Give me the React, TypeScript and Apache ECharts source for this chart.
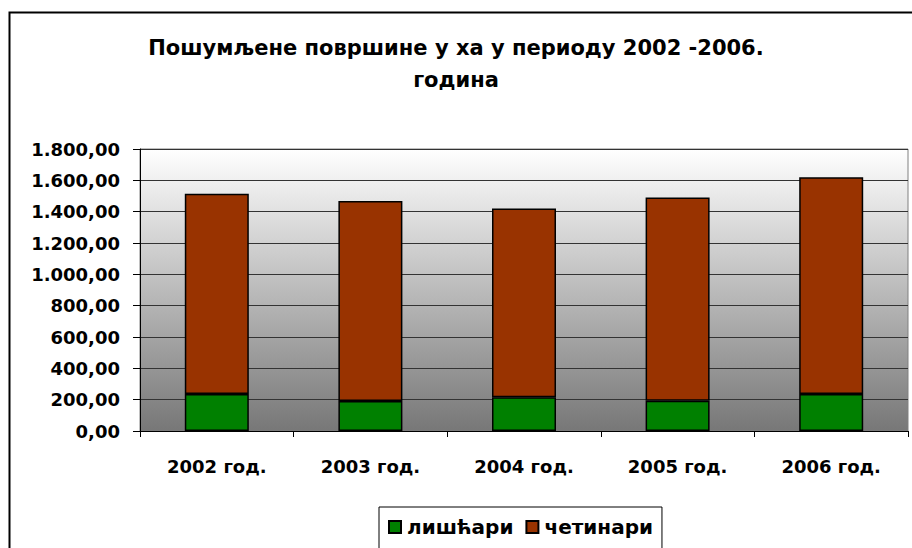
import React, { useEffect, useRef } from "react";
import * as echarts from "echarts";

const categories = ["2002 год.", "2003 год.", "2004 год.", "2005 год.", "2006 год."];
const lisari = [236, 192, 215, 193, 236];
const cetinari = [1279, 1276, 1206, 1298, 1383];
const seriesNames = ["лишћари", "четинари"];
const titleText = "Пошумљене површине у ха у периоду 2002 -2006.\nгодина";

const FONT = "'DejaVu Sans', 'Liberation Sans', Arial, sans-serif";

function fmt(v: number): string {
  const fixed = v.toFixed(2);
  const [intPart, dec] = fixed.split(".");
  const withSep = intPart.replace(/\B(?=(\d{3})+(?!\d))/g, ".");
  return withSep + "," + dec;
}

export default function App() {
  const ref = useRef<HTMLDivElement>(null);
  useEffect(() => {
    if (!ref.current) return;
    const chart = echarts.init(ref.current, undefined, { renderer: "svg" });
    chart.setOption({
      animation: false,
      backgroundColor: "#ffffff",
      title: {
        text: titleText,
        left: "center",
        top: 32,
        padding: 0,
        textStyle: {
          fontFamily: FONT,
          fontWeight: "bold",
          fontSize: 21,
          color: "#000",
          lineHeight: 32,
        },
      },
      graphic: [
        {
          type: "rect",
          shape: { x: 9.5, y: 12.5, width: 1000, height: 700 },
          style: { fill: "none", stroke: "#000", lineWidth: 2 },
          silent: true,
          z: 100,
        },
      ],
      grid: {
        left: 140,
        right: 4,
        top: 149,
        bottom: 117,
        show: true,
        backgroundColor: new echarts.graphic.LinearGradient(0, 0, 0, 1, [
          { offset: 0, color: "#ffffff" },
          { offset: 1, color: "#777777" },
        ]),
        borderColor: "#808080",
        borderWidth: 1,
      },
      legend: {
        data: seriesNames,
        left: 379,
        top: 507,
        orient: "horizontal",
        itemWidth: 12,
        itemHeight: 12,
        itemGap: 12,
        icon: "rect",
        backgroundColor: "#ffffff",
        borderColor: "#000",
        borderWidth: 1,
        padding: [10, 9, 14, 9],
        textStyle: {
          fontFamily: FONT,
          fontWeight: "bold",
          fontSize: 20,
          color: "#000",
          padding: [0, 0, 0, 1],
        },
      },
      xAxis: {
        type: "category",
        data: categories,
        boundaryGap: true,
        axisLine: { show: true, lineStyle: { color: "#000", width: 1 } },
        axisTick: { show: true, length: 6, lineStyle: { color: "#000" } },
        axisLabel: {
          margin: 26,
          fontFamily: FONT,
          fontWeight: "bold",
          fontSize: 18,
          color: "#000",
        },
        splitLine: { show: false },
      },
      yAxis: {
        type: "value",
        min: 0,
        max: 1800,
        interval: 200,
        axisLine: { show: true, lineStyle: { color: "#000", width: 1 } },
        axisTick: { show: true, length: 7, lineStyle: { color: "#000" } },
        axisLabel: {
          margin: 20,
          fontFamily: FONT,
          fontWeight: "bold",
          fontSize: 18,
          color: "#000",
          formatter: (v: number) => fmt(v),
        },
        splitLine: { show: true, lineStyle: { color: "#333", width: 1 } },
      },
      series: [
        {
          name: seriesNames[0],
          type: "bar",
          stack: "total",
          data: lisari,
          barWidth: 64,
          itemStyle: { color: "#008000", borderColor: "#000", borderWidth: 1.5 },
        },
        {
          name: seriesNames[1],
          type: "bar",
          stack: "total",
          data: cetinari,
          barWidth: 64,
          itemStyle: { color: "#993300", borderColor: "#000", borderWidth: 1.5 },
        },
      ],
    });
    return () => chart.dispose();
  }, []);
  return (
    <div
      ref={ref}
      style={{ position: "fixed", left: 0, top: 0, width: 912, height: 548 }}
    />
  );
}
